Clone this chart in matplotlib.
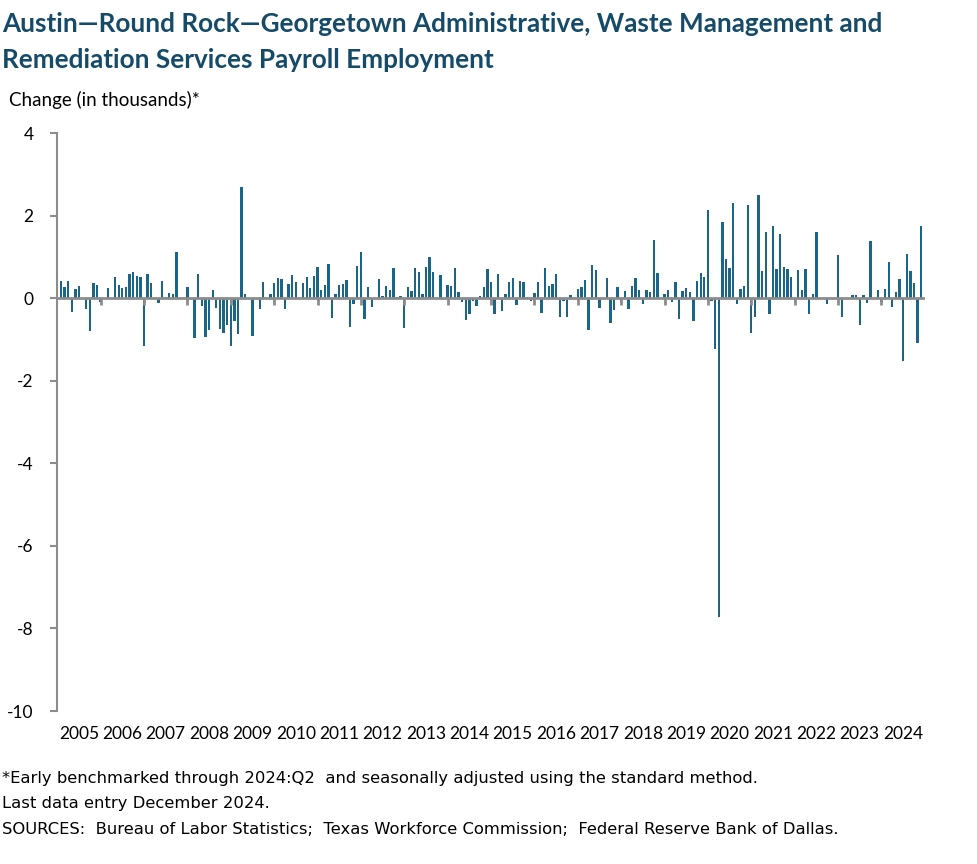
"""
Austin-Round Rock-Georgetown admin/waste services payroll employment, monthly change
"""

import numpy as np
import matplotlib
matplotlib.use("Agg")
import matplotlib.pyplot as plt

plt.rcParams['font.family'] = ['Lato', 'DejaVu Sans']

#------------------------------------------------------------------------
# data: monthly change in thousands, Jan 2005 - Dec 2024 (12 per year)
#------------------------------------------------------------------------
years = [str(y) for y in range(2005, 2025)]

chg_2005 = [0, 0.42, 0.28, 0.42, -0.34, 0.22, 0.29, 0, -0.26, -0.79, 0.36, 0.31]
chg_2006 = [-0.1, 0, 0.24, 0, 0.51, 0.31, 0.25, 0.27, 0.58, 0.64, 0.53, 0.51]
chg_2007 = [-1.16, 0.58, 0.36, 0, -0.11, 0.42, 0.04, 0.12, 0.1, 1.12, 0, 0]
chg_2008 = [0.27, 0, -0.97, 0.58, -0.19, -0.94, -0.77, 0.2, -0.23, -0.75, -0.85, -0.65]
chg_2009 = [-1.16, -0.56, -0.87, 2.69, 0.1, 0, -0.92, 0, -0.27, 0.39, 0, 0.1]
chg_2010 = [0.36, 0.49, 0.47, -0.27, 0.34, 0.56, 0.39, 0, 0.36, 0.52, 0.25, 0.54]
chg_2011 = [0.75, 0.2, 0.31, 0.82, -0.48, 0.1, 0.32, 0.35, 0.44, -0.69, -0.14, 0.77]
chg_2012 = [1.12, -0.51, 0.27, -0.22, 0, 0.47, 0.06, 0.29, 0.2, 0.73, 0.03, 0.06]
chg_2013 = [-0.72, 0.27, 0.18, 0.73, 0.64, 0.1, 0.76, 1.0, 0.64, 0, 0.56, 0]
chg_2014 = [0.32, 0.3, 0.73, 0.15, -0.1, -0.53, -0.39, -0.07, -0.19, 0.06, 0.27, 0.71]
chg_2015 = [0.39, -0.39, 0.58, -0.31, 0.1, 0.39, 0.48, -0.17, 0.42, 0.39, 0.03, -0.07]
chg_2016 = [0.13, 0.39, -0.36, 0.73, 0.29, 0.34, 0.59, -0.46, -0.07, -0.46, 0.08, 0]
chg_2017 = [0.23, 0.27, 0.44, -0.77, 0.81, 0.69, -0.23, 0, 0.49, -0.61, -0.29, 0.27]
chg_2018 = [-0.1, 0.18, -0.27, 0.3, 0.49, 0.2, -0.15, 0.2, 0.15, 1.41, 0.61, 0]
chg_2019 = [0.1, 0.2, -0.1, 0.39, -0.51, 0.17, 0.25, 0.15, -0.56, 0.42, 0.61, 0.51]
chg_2020 = [2.13, -0.07, -1.23, -7.72, 1.84, 0.95, 0.73, 2.30, -0.15, 0.22, 0.29, 2.25]
chg_2021 = [-0.85, -0.46, 2.49, 0.65, 1.6, -0.39, 1.74, 0.7, 1.55, 0.75, 0.7, 0.51]
chg_2022 = [-0.1, 0.68, 0.19, 0.7, -0.39, 0.1, 1.6, 0, 0, -0.15, 0, 0]
chg_2023 = [1.04, -0.46, 0, 0, 0.07, 0.07, -0.65, 0.07, -0.12, 1.38, 0, 0.19]
chg_2024 = [-0.1, 0.22, 0.87, -0.22, 0.15, 0.46, -1.52, 1.07, 0.66, 0.38, -1.09, 1.74]

yticks = [4, 2, 0, -2, -4, -6, -8, -10]

title = ("Austin\u2014Round Rock\u2014Georgetown Administrative, Waste Management and\n"
         "Remediation Services Payroll Employment")
ylab = "Change (in thousands)*"
notes = ["*Early benchmarked through 2024:Q2  and seasonally adjusted using the standard method.",
         "Last data entry December 2024.",
         "SOURCES:  Bureau of Labor Statistics;  Texas Workforce Commission;  Federal Reserve Bank of Dallas."]

bar_col = '#1b6587'
title_col = '#154b68'
axis_col = '#8c8c8c'

#------------------------------------------------------------------------
# plot
#------------------------------------------------------------------------
chg = np.array(chg_2005 + chg_2006 + chg_2007 + chg_2008 + chg_2009 + chg_2010
               + chg_2011 + chg_2012 + chg_2013 + chg_2014 + chg_2015 + chg_2016
               + chg_2017 + chg_2018 + chg_2019 + chg_2020 + chg_2021 + chg_2022
               + chg_2023 + chg_2024)
month = np.arange(len(chg))

fig = plt.figure(figsize=(9.77, 8.64), dpi=100)
ax1 = fig.add_axes([0.0586, 0.177, 0.888, 0.669])

ax1.bar(month, chg, width=0.65, color=bar_col, zorder=2)

# zero line with year ticks hanging down from it
ax1.axhline(0, color=axis_col, lw=2, zorder=3)
ax1.vlines(month[::12][1:], -0.17, 0, color=axis_col, lw=2, zorder=4)

ax1.set_xlim(0, len(chg))
ax1.set_ylim(-10, 4)
ax1.set_yticks(yticks)
ax1.set_yticklabels([str(v) for v in yticks], fontsize=12.5)
ax1.tick_params(axis='y', length=5, width=1.5, color=axis_col, pad=12)

ax1.set_xticks(month[::12] + 6)
ax1.set_xticklabels(years, fontsize=12.5)
ax1.tick_params(axis='x', length=0, pad=11)

for s in ['top', 'right', 'bottom']:
    ax1.spines[s].set_visible(False)
ax1.spines['left'].set_color(axis_col)
ax1.spines['left'].set_linewidth(1.5)

fig.text(0.002, 0.986, title, ha='left', va='top', fontsize=18.8,
         fontweight='bold', color=title_col, linespacing=1.62)
fig.text(0.009, 0.884, ylab, ha='left', va='center', fontsize=13.5)

note_font = ['Liberation Sans Narrow', 'DejaVu Sans']
for i, line in enumerate(notes):
    fig.text(0.002, 0.099 - i * 0.0295, line, ha='left', va='center',
             fontsize=11.8, family=note_font)

fig.savefig("out.png", dpi=100)
